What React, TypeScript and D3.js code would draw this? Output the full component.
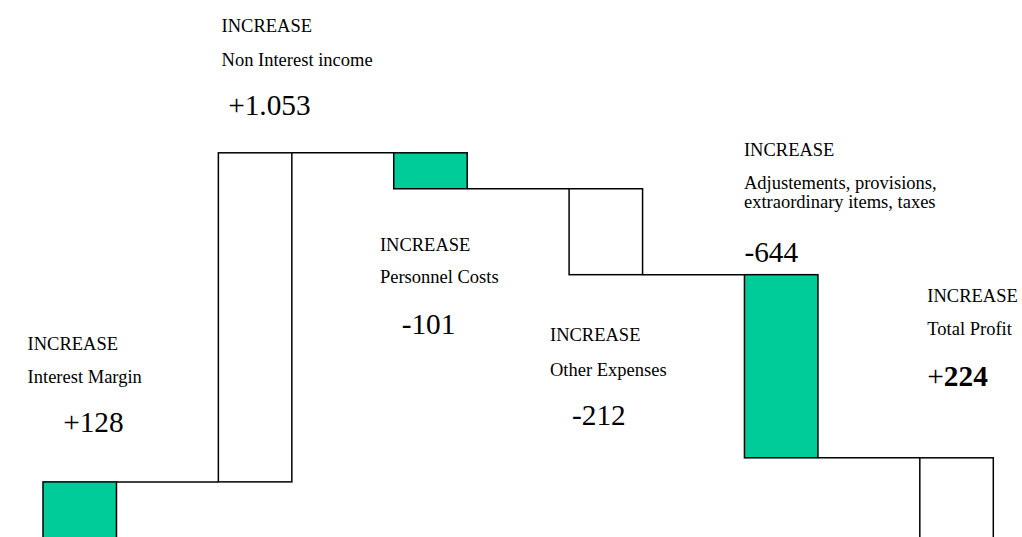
import React from "react";
import * as d3 from "d3";

// ---- data ----
const categories = [
  "Interest Margin",
  "Non Interest income",
  "Personnel Costs",
  "Other Expenses",
  "Adjustements, provisions, extraordinary items, taxes",
  "Total Profit",
];
const headings = ["INCREASE", "INCREASE", "INCREASE", "INCREASE", "INCREASE", "INCREASE"];
const subtitleLines = [
  ["Interest Margin"],
  ["Non Interest income"],
  ["Personnel Costs"],
  ["Other Expenses"],
  ["Adjustements, provisions,", "extraordinary items, taxes"],
  ["Total Profit"],
];
const valueLabels = ["+128", "+1.053", "-101", "-212", "-644", "+224"];
// step heights as drawn in the picture (the original is not drawn to scale)
const drawnSteps = [250, 1053, -115, -275, -586];
const barFills = ["#00CC99", "#FFFFFF", "#00CC99", "#FFFFFF", "#00CC99", "#FFFFFF"];

// ---- annotation layout (offsets relative to each bar) ----
// anchor: which bar edge the heading baseline is measured from
const annoLayout = [
  { dx: -15.4, anchor: "top", dy: -132, numDx: 35.6, subDy: [33.3], numDy: 81.7 },
  { dx: 3.2, anchor: "top", dy: -121.3, numDx: 6.6, subDy: [34.5], numDy: 83 },
  { dx: -13.8, anchor: "bottom", dy: 62.5, numDx: 21.7, subDy: [32], numDy: 82.3 },
  { dx: -19.1, anchor: "bottom", dy: 66.5, numDx: 22, subDy: [35], numDy: 83.5 },
  { dx: -0.5, anchor: "top", dy: -118.3, numDx: 0.5, subDy: [32.7, 52], numDy: 105.5 },
  { dx: 7.5, anchor: "top", dy: -156.3, numDx: 0, subDy: [33.3], numDy: 84 },
];

const W = 1022;
const H = 537;
const FONT = "'Liberation Serif', 'Times New Roman', Times, serif";

export default function App() {
  const x = d3
    .scaleBand<string>()
    .domain(categories)
    .range([43, 993.3])
    .paddingInner(0.581)
    .paddingOuter(0);
  const y = d3.scaleLinear().domain([0, 1600]).range([560, 60]);
  const bw = x.bandwidth();

  // build waterfall segments
  let cum = 0;
  const bars = categories.map((c, i) => {
    if (i < drawnSteps.length) {
      const start = cum;
      cum += drawnSteps[i];
      return { c, start, end: cum, fill: barFills[i] };
    }
    return { c, start: 0, end: cum, fill: barFills[i] };
  });

  return (
    <svg
      width={W}
      height={H}
      style={{ position: "absolute", left: 0, top: 0, display: "block", background: "#fff" }}
      fontFamily={FONT}
    >
      <rect x={0} y={0} width={W} height={H} fill="#fff" />
      {/* connectors */}
      {bars.slice(0, -1).map((b, i) => (
        <line
          key={"c" + i}
          x1={(x(b.c) as number) + bw}
          x2={x(bars[i + 1].c) as number}
          y1={y(b.end)}
          y2={y(b.end)}
          stroke="#000"
          strokeWidth={1.5}
        />
      ))}
      {/* bars */}
      {bars.map((b, i) => {
        const y0 = y(Math.max(b.start, b.end));
        const y1 = y(Math.min(b.start, b.end));
        return (
          <rect
            key={"b" + i}
            x={x(b.c) as number}
            y={y0}
            width={bw}
            height={y1 - y0}
            fill={b.fill}
            stroke="#000"
            strokeWidth={1.5}
          />
        );
      })}
      {/* annotations */}
      {bars.map((b, i) => {
        const L = annoLayout[i];
        const topY = y(Math.max(b.start, b.end));
        const botY = y(Math.min(b.start, b.end));
        const baseY = (L.anchor === "top" ? topY : botY) + L.dy;
        const tx = (x(b.c) as number) + L.dx;
        const isTotal = i === bars.length - 1;
        const label = valueLabels[i];
        return (
          <g key={"a" + i} fill="#000">
            <text x={tx} y={baseY} fontSize={18.5}>
              {headings[i]}
            </text>
            {subtitleLines[i].map((s, k) => (
              <text key={k} x={tx} y={baseY + L.subDy[k]} fontSize={18.5}>
                {s}
              </text>
            ))}
            <text x={tx + L.numDx} y={baseY + L.numDy} fontSize={29.3}>
              {isTotal ? (
                <>
                  <tspan>{label.slice(0, 1)}</tspan>
                  <tspan fontWeight="bold">{label.slice(1)}</tspan>
                </>
              ) : (
                label
              )}
            </text>
          </g>
        );
      })}
    </svg>
  );
}
